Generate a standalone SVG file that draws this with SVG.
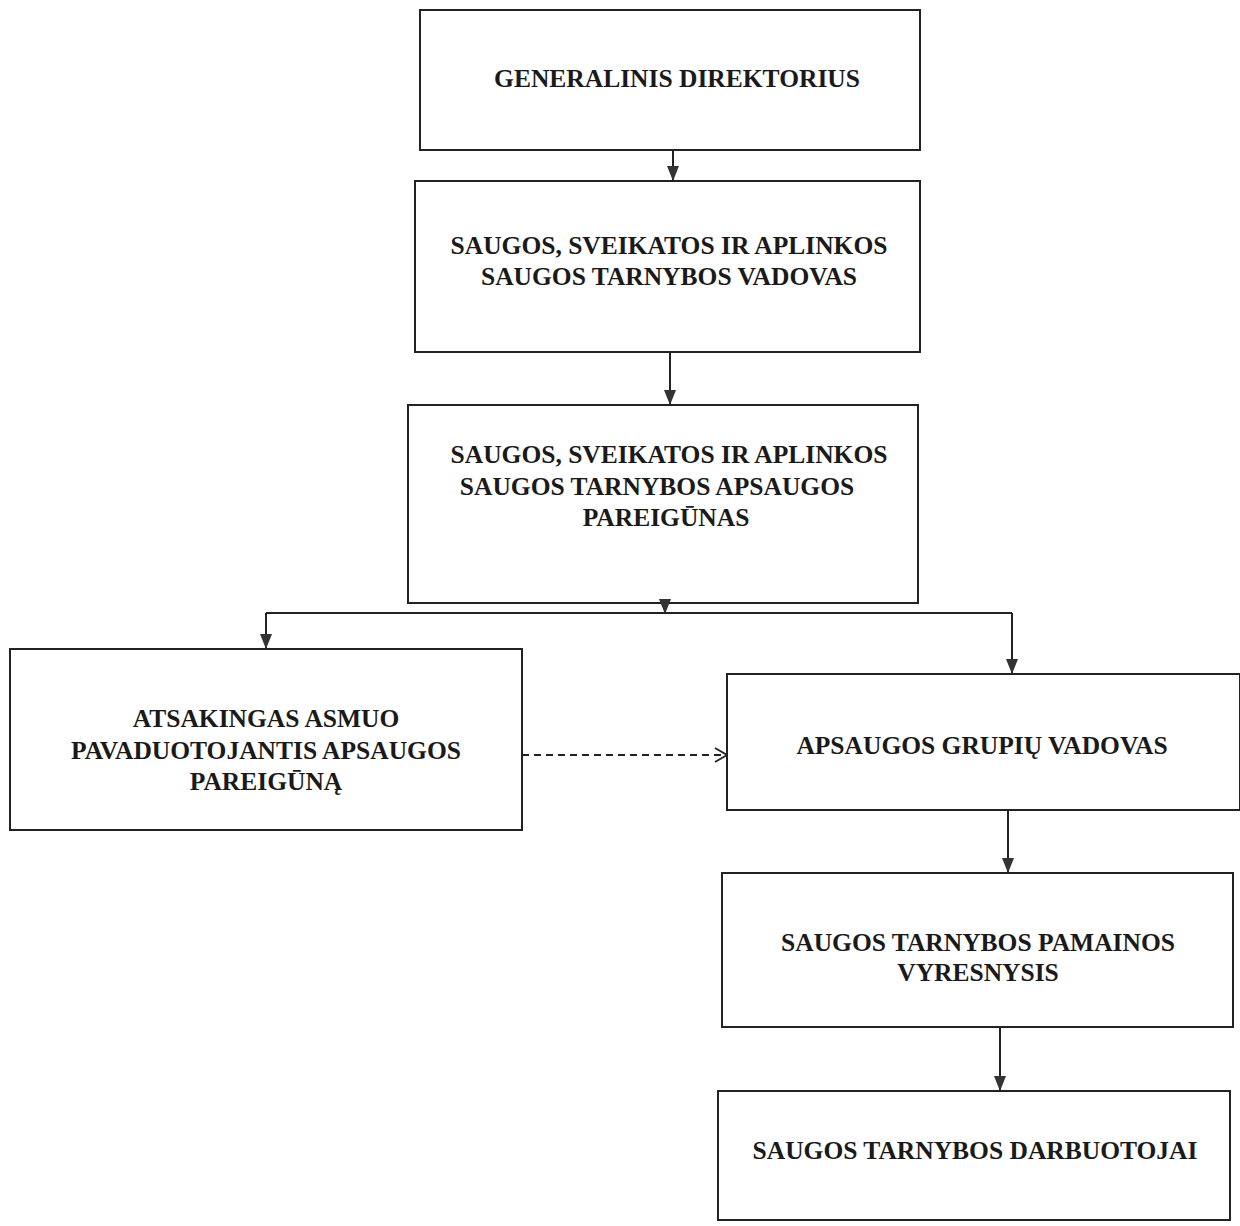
<svg xmlns="http://www.w3.org/2000/svg" width="1240" height="1226" viewBox="0 0 1240 1226">
<style>
.box{fill:#fff;stroke:#222;stroke-width:2}
.t{font-family:"Liberation Serif",serif;font-weight:bold;font-size:25.5px;fill:#1a1a1a;text-anchor:middle}
.c{fill:none;stroke:#222;stroke-width:2}
.d{fill:none;stroke:#222;stroke-width:2;stroke-dasharray:7,5}
</style>
<defs>
<marker id="ah" markerWidth="15" markerHeight="12" refX="15" refY="6" orient="auto" markerUnits="userSpaceOnUse" viewBox="0 0 15 12">
<path d="M0,0 L15,6 L0,12 Z" fill="#333"/>
</marker>
<marker id="fa" markerWidth="14" markerHeight="16" refX="13" refY="8" orient="auto" markerUnits="userSpaceOnUse" viewBox="0 0 14 16">
<path d="M1,1 L13,8 L1,15" fill="none" stroke="#222" stroke-width="1.8"/>
</marker>
</defs>
<rect width="1240" height="1226" fill="#fff"/>
<g id="n1"><rect class="box" x="420" y="10" width="500" height="140"/><text class="t" x="677" y="87">GENERALINIS DIREKTORIUS</text></g>
<g id="n2"><rect class="box" x="415" y="181" width="505" height="171"/><text class="t" x="669" y="254">SAUGOS, SVEIKATOS IR APLINKOS</text><text class="t" x="669" y="285">SAUGOS TARNYBOS VADOVAS</text></g>
<g id="n3"><rect class="box" x="408" y="405" width="510" height="198"/><text class="t" x="669" y="463">SAUGOS, SVEIKATOS IR APLINKOS</text><text class="t" x="657" y="495">SAUGOS TARNYBOS APSAUGOS</text><text class="t" x="666" y="526">PAREIGŪNAS</text></g>
<g id="n4"><rect class="box" x="10" y="649" width="512" height="181"/><text class="t" x="266" y="727">ATSAKINGAS ASMUO</text><text class="t" x="266" y="759">PAVADUOTOJANTIS APSAUGOS</text><text class="t" x="266" y="790">PAREIGŪNĄ</text></g>
<g id="n5"><rect class="box" x="727" y="674" width="513" height="136"/><text class="t" x="982" y="754">APSAUGOS GRUPIŲ VADOVAS</text></g>
<g id="n6"><rect class="box" x="722" y="873" width="511" height="154"/><text class="t" x="978" y="951">SAUGOS TARNYBOS PAMAINOS</text><text class="t" x="978" y="981">VYRESNYSIS</text></g>
<g id="n7"><rect class="box" x="718" y="1091" width="512" height="129"/><text class="t" x="975" y="1159">SAUGOS TARNYBOS DARBUOTOJAI</text></g>
<g id="connectors">
<path class="c" d="M673,150 V181" marker-end="url(#ah)"/>
<path class="c" d="M670,352 V405" marker-end="url(#ah)"/>
<path class="c" d="M665,603 V614" marker-end="url(#ah)"/>
<path class="c" d="M266,613 H1012"/>
<path class="c" d="M266,613 V649" marker-end="url(#ah)"/>
<path class="c" d="M1012,613 V674" marker-end="url(#ah)"/>
<path class="d" d="M522,755 H727" marker-end="url(#fa)"/>
<path class="c" d="M1008,810 V873" marker-end="url(#ah)"/>
<path class="c" d="M1000,1027 V1091" marker-end="url(#ah)"/>
</g>
</svg>
